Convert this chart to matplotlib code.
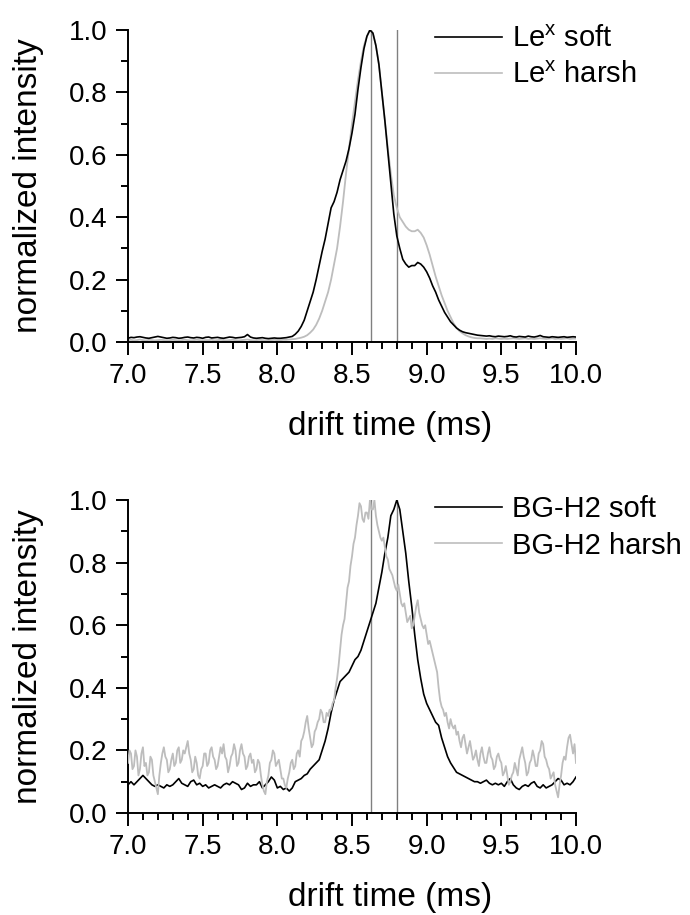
import numpy as np
import matplotlib
matplotlib.use('Agg')
import matplotlib.pyplot as plt
from matplotlib.ticker import MultipleLocator

plt.rcParams['font.family'] = ['Liberation Sans', 'DejaVu Sans']
plt.rcParams['mathtext.fontset'] = 'custom'
plt.rcParams['mathtext.rm'] = 'Liberation Sans'

# drift time grids (ms)
drift_time = np.round(np.arange(7.0, 10.001, 0.02), 2)
drift_time_fine = np.round(np.arange(7.0, 10.001, 0.01), 2)

# top panel: Le^x (0.02 ms grid)
lex_soft = [
    0.012, 0.015, 0.014, 0.016, 0.017, 0.015, 0.013, 0.012, 0.014, 0.016,
    0.018, 0.016, 0.014, 0.012, 0.013, 0.015, 0.014, 0.012, 0.013, 0.015,
    0.016, 0.014, 0.013, 0.015, 0.014, 0.012, 0.015, 0.016, 0.013, 0.014,
    0.015, 0.013, 0.012, 0.014, 0.016, 0.015, 0.013, 0.014, 0.015, 0.017,
    0.024, 0.016, 0.013, 0.012, 0.013, 0.014, 0.012, 0.011, 0.012, 0.013,
    0.012, 0.012, 0.013, 0.014, 0.016, 0.018, 0.025, 0.035, 0.050, 0.070,
    0.100, 0.130, 0.160, 0.200, 0.245, 0.290, 0.330, 0.380, 0.430, 0.450,
    0.480, 0.520, 0.550, 0.580, 0.620, 0.670, 0.730, 0.810, 0.880, 0.940,
    0.980, 1.000, 0.990, 0.950, 0.890, 0.800, 0.710, 0.610, 0.510, 0.410,
    0.340, 0.300, 0.265, 0.250, 0.240, 0.245, 0.245, 0.255, 0.250, 0.240,
    0.225, 0.205, 0.180, 0.160, 0.135, 0.115, 0.095, 0.080, 0.065, 0.055,
    0.045, 0.038, 0.033, 0.030, 0.028, 0.026, 0.024, 0.022, 0.021, 0.020,
    0.019, 0.020, 0.018, 0.017, 0.019, 0.018, 0.017, 0.018, 0.020, 0.017,
    0.016, 0.018, 0.017, 0.016, 0.019, 0.017, 0.016, 0.018, 0.021, 0.017,
    0.016, 0.015, 0.017, 0.016, 0.015, 0.016, 0.017, 0.015, 0.016, 0.017,
    0.016]
lex_harsh = [
    0.006, 0.007, 0.005, 0.006, 0.008, 0.006, 0.005, 0.007, 0.006, 0.005,
    0.006, 0.007, 0.006, 0.005, 0.006, 0.007, 0.006, 0.005, 0.006, 0.007,
    0.006, 0.005, 0.006, 0.007, 0.006, 0.005, 0.006, 0.006, 0.007, 0.005,
    0.006, 0.007, 0.006, 0.005, 0.006, 0.007, 0.006, 0.005, 0.006, 0.007,
    0.008, 0.006, 0.005, 0.006, 0.007, 0.006, 0.005, 0.006, 0.006, 0.007,
    0.006, 0.006, 0.007, 0.007, 0.008, 0.009, 0.010, 0.012, 0.014, 0.017,
    0.022, 0.030, 0.040, 0.055, 0.075, 0.100, 0.130, 0.160, 0.200, 0.250,
    0.300, 0.370, 0.450, 0.540, 0.620, 0.700, 0.770, 0.840, 0.900, 0.950,
    0.980, 1.000, 0.990, 0.950, 0.890, 0.800, 0.710, 0.620, 0.540, 0.470,
    0.430, 0.400, 0.385, 0.370, 0.360, 0.355, 0.355, 0.360, 0.350, 0.335,
    0.310, 0.280, 0.245, 0.210, 0.180, 0.150, 0.125, 0.100, 0.080, 0.060,
    0.045, 0.035, 0.028, 0.022, 0.018, 0.015, 0.013, 0.012, 0.012, 0.011,
    0.010, 0.011, 0.010, 0.012, 0.011, 0.010, 0.011, 0.010, 0.011, 0.012,
    0.011, 0.010, 0.011, 0.012, 0.010, 0.011, 0.010, 0.011, 0.012, 0.011,
    0.010, 0.011, 0.012, 0.010, 0.011, 0.010, 0.011, 0.012, 0.010, 0.011,
    0.011]

# bottom panel: BG-H2 (soft on 0.02 ms grid, harsh on 0.01 ms grid)
bgh2_soft = [
    0.090, 0.100, 0.090, 0.100, 0.110, 0.120, 0.110, 0.100, 0.090, 0.085,
    0.090, 0.085, 0.080, 0.090, 0.085, 0.090, 0.100, 0.110, 0.095, 0.090,
    0.085, 0.100, 0.105, 0.090, 0.095, 0.085, 0.090, 0.080, 0.085, 0.090,
    0.085, 0.080, 0.090, 0.095, 0.090, 0.100, 0.095, 0.090, 0.075, 0.080,
    0.095, 0.085, 0.090, 0.090, 0.100, 0.080, 0.090, 0.100, 0.115, 0.105,
    0.080, 0.085, 0.075, 0.080, 0.070, 0.080, 0.100, 0.105, 0.110, 0.120,
    0.125, 0.140, 0.150, 0.160, 0.170, 0.200, 0.230, 0.270, 0.320, 0.360,
    0.390, 0.420, 0.430, 0.440, 0.450, 0.470, 0.490, 0.500, 0.520, 0.550,
    0.580, 0.610, 0.640, 0.670, 0.720, 0.770, 0.830, 0.880, 0.950, 0.970,
    1.000, 0.970, 0.900, 0.830, 0.740, 0.660, 0.570, 0.490, 0.430, 0.380,
    0.350, 0.330, 0.310, 0.290, 0.280, 0.240, 0.210, 0.180, 0.160, 0.145,
    0.130, 0.125, 0.120, 0.115, 0.110, 0.105, 0.100, 0.100, 0.095, 0.100,
    0.105, 0.095, 0.090, 0.095, 0.090, 0.095, 0.085, 0.100, 0.110, 0.090,
    0.080, 0.075, 0.085, 0.090, 0.085, 0.095, 0.100, 0.085, 0.080, 0.090,
    0.080, 0.085, 0.090, 0.100, 0.110, 0.105, 0.090, 0.095, 0.090, 0.100,
    0.115]
bgh2_harsh = [
    0.16, 0.20, 0.19, 0.14, 0.15, 0.20, 0.18, 0.12, 0.14, 0.19,
    0.21, 0.15, 0.16, 0.12, 0.13, 0.18, 0.17, 0.12, 0.10, 0.08,
    0.06, 0.12, 0.16, 0.19, 0.21, 0.18, 0.17, 0.13, 0.14, 0.17,
    0.19, 0.15, 0.16, 0.20, 0.21, 0.16, 0.17, 0.20, 0.19, 0.21,
    0.23, 0.19, 0.17, 0.13, 0.14, 0.18, 0.16, 0.12, 0.11, 0.14,
    0.15, 0.19, 0.19, 0.15, 0.16, 0.20, 0.21, 0.18, 0.17, 0.14,
    0.15, 0.18, 0.21, 0.19, 0.22, 0.18, 0.17, 0.13, 0.15, 0.18,
    0.19, 0.22, 0.20, 0.15, 0.16, 0.20, 0.22, 0.19, 0.18, 0.14,
    0.15, 0.18, 0.19, 0.16, 0.17, 0.13, 0.14, 0.17, 0.16, 0.12,
    0.09, 0.07, 0.06, 0.10, 0.12, 0.16, 0.17, 0.20, 0.19, 0.15,
    0.16, 0.17, 0.14, 0.11, 0.11, 0.09, 0.08, 0.11, 0.13, 0.16,
    0.17, 0.14, 0.15, 0.19, 0.20, 0.18, 0.23, 0.24, 0.26, 0.29,
    0.31, 0.27, 0.24, 0.21, 0.22, 0.26, 0.27, 0.29, 0.30, 0.33,
    0.32, 0.29, 0.29, 0.32, 0.31, 0.33, 0.33, 0.35, 0.36, 0.40,
    0.43, 0.47, 0.52, 0.57, 0.60, 0.62, 0.67, 0.72, 0.74, 0.79,
    0.82, 0.86, 0.88, 0.92, 0.95, 0.99, 0.98, 0.94, 0.93, 0.96,
    0.96, 0.94, 1.00, 0.97, 0.97, 1.00, 0.95, 0.92, 0.90, 0.88,
    0.87, 0.88, 0.85, 0.82, 0.81, 0.78, 0.77, 0.76, 0.74, 0.72,
    0.71, 0.73, 0.70, 0.67, 0.66, 0.67, 0.64, 0.61, 0.62, 0.63,
    0.59, 0.60, 0.63, 0.66, 0.68, 0.64, 0.62, 0.60, 0.59, 0.60,
    0.57, 0.54, 0.55, 0.53, 0.51, 0.49, 0.47, 0.45, 0.40, 0.36,
    0.34, 0.33, 0.31, 0.32, 0.29, 0.27, 0.30, 0.28, 0.27, 0.28,
    0.25, 0.26, 0.23, 0.21, 0.24, 0.25, 0.22, 0.19, 0.21, 0.23,
    0.20, 0.17, 0.18, 0.20, 0.17, 0.15, 0.19, 0.21, 0.18, 0.16,
    0.16, 0.19, 0.21, 0.18, 0.17, 0.14, 0.15, 0.18, 0.19, 0.17,
    0.16, 0.12, 0.13, 0.15, 0.12, 0.09, 0.10, 0.12, 0.13, 0.16,
    0.14, 0.12, 0.17, 0.19, 0.21, 0.18, 0.16, 0.12, 0.13, 0.16,
    0.17, 0.20, 0.18, 0.15, 0.15, 0.19, 0.20, 0.23, 0.22, 0.18,
    0.17, 0.15, 0.14, 0.11, 0.12, 0.13, 0.09, 0.07, 0.05, 0.09,
    0.12, 0.16, 0.18, 0.17, 0.21, 0.24, 0.25, 0.22, 0.19, 0.22,
    0.16]

# reference drift times marked by vertical lines
marker_times = [8.63, 8.80]

panels = [
    (drift_time, lex_soft, drift_time, lex_harsh,
     r'Le$^{\rm x}$ soft', r'Le$^{\rm x}$ harsh', False),
    (drift_time, bgh2_soft, drift_time_fine, bgh2_harsh,
     'BG-H2 soft', 'BG-H2 harsh', True),
]

fig = plt.figure(figsize=(6.9, 9.15), dpi=100)
axes = [fig.add_axes([0.1855, 0.6262, 0.6493, 0.341]),
        fig.add_axes([0.1855, 0.1115, 0.6493, 0.342])]

for ax, (xs, soft, xh, harsh, lab_s, lab_h, harsh_on_top) in zip(axes, panels):
    for t in marker_times:
        ax.axvline(t, color='#808080', lw=1.0, zorder=1)
    zs, zh = (2, 3) if harsh_on_top else (3, 2)
    ax.plot(xs, soft, color='black', lw=1.2, label=lab_s, zorder=zs)
    ax.plot(xh, harsh, color='#bdbdbd', lw=1.3, label=lab_h, zorder=zh)

    ax.set_xlim(7.0, 10.0)
    ax.set_ylim(0.0, 1.0)
    ax.xaxis.set_major_locator(MultipleLocator(0.5))
    ax.xaxis.set_minor_locator(MultipleLocator(0.1))
    ax.yaxis.set_major_locator(MultipleLocator(0.2))
    ax.yaxis.set_minor_locator(MultipleLocator(0.1))
    ax.xaxis.set_major_formatter('{x:.1f}')
    ax.yaxis.set_major_formatter('{x:.1f}')
    for s in ['top', 'right']:
        ax.spines[s].set_visible(False)
    for s in ['left', 'bottom']:
        ax.spines[s].set_linewidth(1.4)
    ax.tick_params(which='major', direction='out', length=9, width=1.4,
                   labelsize=20, pad=6)
    ax.tick_params(which='minor', direction='out', length=5, width=1.4)

    ax.text(-0.223, 0.5, 'normalized intensity', transform=ax.transAxes,
            rotation=90, ha='center', va='center', fontsize=24)
    ax.text(0.585, -0.27, 'drift time (ms)', transform=ax.transAxes,
            ha='center', va='center', fontsize=24)

    leg = ax.legend(loc='upper left', bbox_to_anchor=(0.685, 1.015),
                    frameon=False, fontsize=21, handlelength=2.3,
                    handletextpad=0.35, labelspacing=0.28,
                    borderpad=0, borderaxespad=0)
    for line in leg.get_lines():
        line.set_linewidth(1.2)

fig.savefig('out.png', dpi=100)
